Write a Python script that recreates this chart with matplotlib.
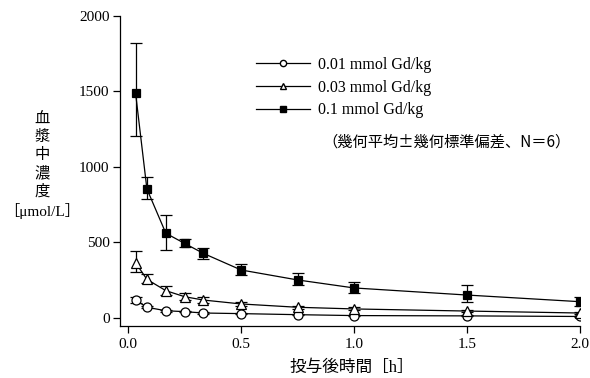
import matplotlib
matplotlib.use("Agg")
import matplotlib.pyplot as plt
from matplotlib.lines import Line2D

plt.rcParams['font.family'] = ['Liberation Serif', 'Noto Sans CJK JP', 'DejaVu Sans']

# time after dosing [h]
hours = [0.033, 0.083, 0.167, 0.25, 0.333, 0.5, 0.75, 1.0, 1.5, 2.0]

# geometric mean and error bar ends, umol/L
low_mean = [119, 71, 48, 42, 33, 29, 22, 16, 14, 10]
low_hi = [140, 80, 54, 47, 37, 32, 25, 19, 17, 12]
low_lo = [100, 63, 42, 37, 29, 26, 19, 13, 11, 8]

mid_mean = [366, 256, 181, 141, 119, 93, 71, 60, 46, 33]
mid_hi = [446, 291, 212, 168, 141, 105, 82, 70, 56, 41]
mid_lo = [302, 230, 152, 121, 101, 82, 61, 51, 37, 26]

high_mean = [1488, 855, 561, 494, 428, 318, 252, 199, 152, 108]
high_hi = [1823, 937, 682, 521, 466, 357, 296, 240, 218, 141]
high_lo = [1206, 789, 450, 468, 389, 285, 221, 168, 108, 79]

labels = ['0.01 mmol Gd/kg', '0.03 mmol Gd/kg', '0.1 mmol Gd/kg']
note = '（幾何平均±幾何標準偏差、N＝6）'

fig = plt.figure(figsize=(5.9, 3.78), dpi=100)
ax = fig.add_axes([120 / 590, 52 / 378, 460 / 590, 310 / 378])

series = [
    (low_mean, low_hi, low_lo, 'o', 'white', 6.5),
    (mid_mean, mid_hi, mid_lo, '^', 'white', 7),
    (high_mean, high_hi, high_lo, 's', 'black', 6),
]
for mean, hi, lo, mk, fc, ms in series:
    err = [[m - l for m, l in zip(mean, lo)], [h - m for m, h in zip(mean, hi)]]
    ax.errorbar(hours, mean, yerr=err, color='black', lw=0.9, elinewidth=0.9,
                capsize=4, capthick=0.9, marker=mk, markerfacecolor=fc,
                markeredgecolor='black', markeredgewidth=0.9, markersize=ms)

ax.set_xlim(-0.036, 2.0)
ax.set_ylim(-53, 2000)
ax.set_xticks([0.0, 0.5, 1.0, 1.5, 2.0])
ax.set_xticklabels(['0.0', '0.5', '1.0', '1.5', '2.0'])
ax.set_yticks([0, 500, 1000, 1500, 2000])
ax.spines['top'].set_visible(False)
ax.spines['right'].set_visible(False)
ax.tick_params(direction='out', length=5, width=0.9, labelsize=11)
ax.tick_params(axis='y', pad=2.5)
for s in ['left', 'bottom']:
    ax.spines[s].set_linewidth(0.9)

handles = [
    Line2D([], [], color='black', lw=0.9, marker='o', markerfacecolor='white', markersize=4.5),
    Line2D([], [], color='black', lw=0.9, marker='^', markerfacecolor='white', markersize=4.5),
    Line2D([], [], color='black', lw=0.9, marker='s', markerfacecolor='black', markersize=4.5),
]
ax.legend(handles, labels, loc='upper left', bbox_to_anchor=(248 / 590, 1 - 49 / 378),
          bbox_transform=fig.transFigure, frameon=False, handlelength=3.4,
          handletextpad=0.5, labelspacing=0.42, fontsize=11.5, borderpad=0)
fig.text(322 / 590, 1 - 142 / 378, note, fontsize=11, va='center', ha='left',
         family=['Noto Sans CJK JP', 'Liberation Serif'])

fig.text(42 / 590, 1 - 166 / 378, '血\n漿\n中\n濃\n度\n［μmol/L］', fontsize=11,
         ha='center', va='center', multialignment='center', linespacing=1.35)
fig.text(352 / 590, 1 - 368 / 378, '投与後時間［h］', fontsize=12, ha='center', va='center')

fig.savefig('out.png', dpi=100)
